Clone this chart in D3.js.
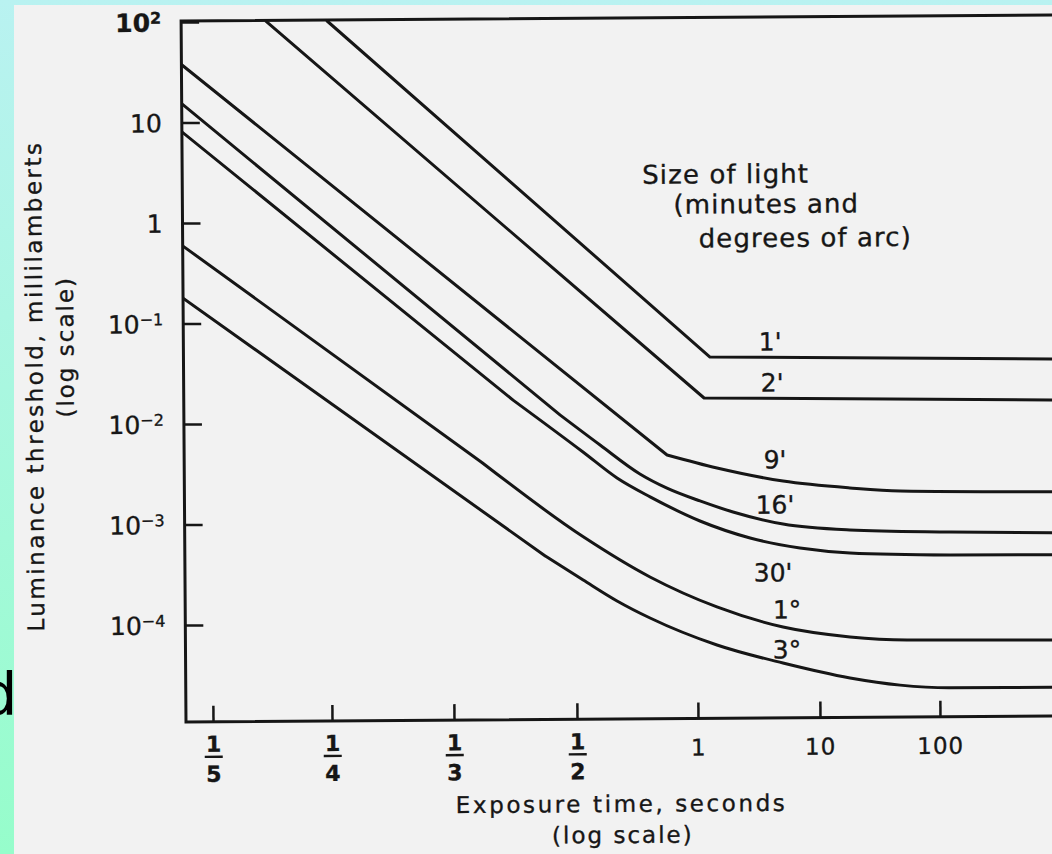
<!DOCTYPE html>
<html>
<head>
<meta charset="utf-8">
<script src="https://cdn.jsdelivr.net/npm/d3@7"></script>
<style>
  html, body { margin: 0; padding: 0; background: #f2f2f2; }
  svg { display: block; }
  text { font-family: 'DejaVu Sans', sans-serif; fill: #161616; stroke: #161616; stroke-width: 0.35px; }
</style>
</head>
<body>
<svg id="chart" width="1052" height="854"></svg>
<script>
// x axis: exposure time in seconds (ticks evenly spaced on the paper)
let xTickValues = [1/5, 1/4, 1/3, 1/2, 1, 10, 100];
let xTickNum = ['1', '1', '1', '1', '1', '10', '100'];
let xTickDen = ['5', '4', '3', '2', '', '', ''];

// y axis: luminance threshold, millilamberts
let yTickValues = [1e2, 1e1, 1, 1e-1, 1e-2, 1e-3, 1e-4];
let yTickBase = ['10', '10', '1', '10', '10', '10', '10'];
let yTickExp = ['2', '', '', '\u22121', '\u22122', '\u22123', '\u22124'];

// size of light, one curve each
let sizes = ["1'", "2'", "9'", "16'", "30'", "1\u00b0", "3\u00b0"];

let time1 = [0.25, 1.315, 1000];
let lum1 = [100, 0.0426, 0.0386];
let time2 = [0.223, 1.17, 1000];
let lum2 = [100, 0.0167, 0.0151];
let time9 = [0.19, 0.8465, 1.48, 5.14, 18.3, 47.9, 1000];
let lum9 = [38.0, 0.00455, 0.00335, 0.00246, 0.00208, 0.00192, 0.00184];
let time16 = [0.19, 0.476, 0.577, 0.724, 0.845, 1.068, 1.99, 5.11, 18.2, 124, 1000];
let lum16 = [15.5, 0.0116, 0.00578, 0.00296, 0.00213, 0.00158, 0.00122, 0.000918, 0.000794, 0.000746, 0.000718];
let time30 = [0.19, 0.408, 0.523, 0.635, 0.767, 1.066, 2.74, 7.01, 18.2, 124, 1000];
let lum30 = [8.12, 0.0164, 0.00494, 0.00271, 0.00175, 0.000998, 0.000671, 0.000528, 0.000469, 0.000441, 0.000434];
let time1d = [0.19, 0.368, 0.521, 0.764, 1.45, 5.04, 18.0, 53.7, 1000];
let lum1d = [0.596, 0.00393, 0.000712, 0.000279, 0.000139, 8.67e-5, 6.84e-5, 6.32e-5, 6.18e-5];
let time3d = [0.19, 0.452, 0.521, 0.632, 0.763, 1.445, 5.01, 17.9, 46.7, 121.6, 1000];
let lum3d = [0.180, 0.000459, 0.000263, 0.000162, 0.000109, 5.81e-5, 3.80e-5, 2.67e-5, 2.25e-5, 2.10e-5, 2.09e-5];

// where each size label sits (seconds, millilamberts)
let labelTime = [4.10, 4.23, 4.43, 4.40, 4.20, 5.45, 5.41];
let labelLum = [0.0596, 0.0233, 0.00399, 0.00142, 0.000300, 0.000128, 5.12e-5];

// bend: index where the straight run ends and the rounded part starts
let curves = [
  { t: time1, l: lum1, bend: 2 },
  { t: time2, l: lum2, bend: 2 },
  { t: time9, l: lum9, bend: 1 },
  { t: time16, l: lum16, bend: 1 },
  { t: time30, l: lum30, bend: 1 },
  { t: time1d, l: lum1d, bend: 1 },
  { t: time3d, l: lum3d, bend: 1 }
];

let ink = '#161616';
let plotLeft = 186, plotBottom = 722, plotRight = 1062;

let svg = d3.select('#chart');

// slide background behind the scanned page
let grad = svg.append('defs').append('linearGradient')
  .attr('id', 'bg').attr('x1', 0).attr('y1', 0).attr('x2', 0).attr('y2', 1);
grad.append('stop').attr('offset', '0%').attr('stop-color', '#b9f2f1');
grad.append('stop').attr('offset', '100%').attr('stop-color', '#96fdcb');
svg.append('rect').attr('width', 1052).attr('height', 854).attr('fill', 'url(#bg)');
svg.append('text').attr('x', -20).attr('y', 715)
  .style('font-size', '59px').style('fill', '#000').style('stroke', 'none').text('d');
svg.append('rect').attr('x', 14).attr('y', 5).attr('width', 1040).attr('height', 850).attr('fill', '#f2f2f2');

// the scan is slightly tilted
let g = svg.append('g').attr('transform', 'rotate(-0.4,' + plotLeft + ',' + plotBottom + ')');

let x = d3.scaleLinear()
  .domain(xTickValues.map(Math.log10))
  .range([213, 332, 454, 577, 698, 820, 940]);
let y = d3.scaleLog().domain([1e-5, 1e2]).range([725.5, 22]);
let plotTop = y(1e2) - 1;

g.append('clipPath').attr('id', 'plot')
  .append('rect').attr('x', plotLeft).attr('y', plotTop)
  .attr('width', plotRight - plotLeft).attr('height', plotBottom - plotTop);

// frame
g.append('path')
  .attr('d', 'M' + plotRight + ',' + plotTop + 'H' + plotLeft + 'V' + plotBottom + 'H' + plotRight)
  .attr('fill', 'none').attr('stroke', ink).attr('stroke-width', 3);

// y axis
let yAxis = g.append('g').attr('transform', 'translate(' + plotLeft + ',0)')
  .call(d3.axisLeft(y).tickValues(yTickValues).tickSize(-18).tickPadding(20).tickFormat(''));
yAxis.select('.domain').remove();
yAxis.selectAll('.tick line').attr('stroke', ink).attr('stroke-width', 2.5);
yAxis.selectAll('.tick text').each(function (d, i) {
  let t = d3.select(this).attr('dy', '0.36em').style('font-size', '25px');
  t.append('tspan').text(yTickBase[i]);
  if (yTickExp[i]) {
    t.append('tspan').attr('dy', '-0.5em').style('font-size', '16px').text(yTickExp[i]);
  }
});
yAxis.select('.tick text').style('font-weight', 'bold');

// x axis
let xAxis = g.append('g').attr('transform', 'translate(0,' + plotBottom + ')')
  .call(d3.axisBottom(x).tickValues(xTickValues.map(Math.log10)).tickSize(-16).tickFormat(''));
xAxis.select('.domain').remove();
xAxis.selectAll('.tick text').remove();
xAxis.selectAll('.tick line').attr('stroke', ink).attr('stroke-width', 2.5);
xAxis.selectAll('.tick').each(function (d, i) {
  let tick = d3.select(this);
  if (xTickDen[i]) {
    tick.append('text').attr('y', 30).attr('text-anchor', 'middle')
      .style('font-size', '22px').style('font-weight', 'bold').text(xTickNum[i]);
    tick.append('line').attr('x1', -9).attr('x2', 9).attr('y1', 35).attr('y2', 35)
      .attr('stroke', ink).attr('stroke-width', 2.4);
    tick.append('text').attr('y', 60).attr('text-anchor', 'middle')
      .style('font-size', '22px').style('font-weight', 'bold').text(xTickDen[i]);
  } else {
    tick.append('text').attr('y', 37).attr('text-anchor', 'middle')
      .style('font-size', '23px').style('letter-spacing', '1px').text(xTickNum[i]);
  }
});

// curves: straight run, then a rounded tail
let straight = d3.line()
  .x((d) => x(Math.log10(d[0])))
  .y((d) => y(d[1]));
let rounded = d3.line()
  .x((d) => x(Math.log10(d[0])))
  .y((d) => y(d[1]))
  .curve(d3.curveMonotoneX);

g.append('g').attr('clip-path', 'url(#plot)')
  .selectAll('path')
  .data(curves)
  .enter()
  .append('path')
  .attr('d', (c) => {
    let pts = c.t.map((t, i) => [t, c.l[i]]);
    let d = straight(pts.slice(0, c.bend + 1));
    if (c.bend < pts.length - 1) d += rounded(pts.slice(c.bend));
    return d;
  })
  .attr('fill', 'none')
  .attr('stroke', ink)
  .attr('stroke-width', 3)
  .attr('stroke-linejoin', 'round')
  .attr('stroke-linecap', 'round');

g.selectAll('.size-label')
  .data(sizes)
  .enter()
  .append('text')
  .attr('class', 'size-label')
  .attr('x', (d, i) => x(Math.log10(labelTime[i])))
  .attr('y', (d, i) => y(labelLum[i]))
  .attr('text-anchor', 'middle')
  .attr('dominant-baseline', 'central')
  .style('font-size', '25px')
  .text((d) => d);

// legend note
let note = [['Size of light', 646, 187], ['(minutes and', 677, 217], ['degrees of arc)', 702, 251]];
note.forEach((n) => {
  g.append('text').attr('x', n[1]).attr('y', n[2])
    .style('font-size', '26px').style('letter-spacing', '1.1px').text(n[0]);
});

// axis titles
g.append('text').attr('x', 621).attr('y', 815).attr('text-anchor', 'middle')
  .style('font-size', '23px').style('letter-spacing', '2.6px').text('Exposure time, seconds');
g.append('text').attr('x', 622).attr('y', 846).attr('text-anchor', 'middle')
  .style('font-size', '23px').style('letter-spacing', '2px').text('(log scale)');
g.append('text').attr('transform', 'translate(45,385) rotate(-90)').attr('text-anchor', 'middle')
  .style('font-size', '23px').style('letter-spacing', '2.5px').text('Luminance threshold, millilamberts');
g.append('text').attr('transform', 'translate(76,346) rotate(-90)').attr('text-anchor', 'middle')
  .style('font-size', '23px').style('letter-spacing', '2px').text('(log scale)');
</script>
</body>
</html>
